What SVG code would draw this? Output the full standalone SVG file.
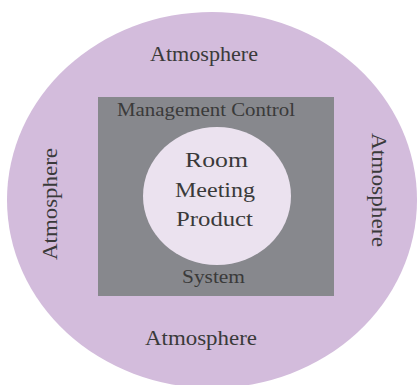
<svg xmlns="http://www.w3.org/2000/svg" width="418" height="385" viewBox="0 0 418 385">
<style>
.t{font-family:"Liberation Serif","Times New Roman",serif;fill:#3a3a3a;text-anchor:middle}
.a{font-size:20px}
.m{font-size:19px}
.c{font-size:22px}
</style>
<rect width="418" height="385" fill="#ffffff"/>
<g id="atmosphere">
<ellipse cx="212" cy="200" rx="205" ry="188" fill="#d3bcdc"/>
<text class="t a" x="204" y="61" textLength="108" lengthAdjust="spacingAndGlyphs">Atmosphere</text>
<text class="t a" x="201" y="345" textLength="112" lengthAdjust="spacingAndGlyphs">Atmosphere</text>
<text class="t a" transform="translate(57,204) rotate(-90)" textLength="112" lengthAdjust="spacingAndGlyphs">Atmosphere</text>
<text class="t a" transform="translate(372,190) rotate(90)" textLength="114" lengthAdjust="spacingAndGlyphs">Atmosphere</text>
</g>
<g id="system">
<rect x="98" y="97" width="236" height="199" fill="#87888d"/>
<text class="t m" x="206" y="116" textLength="178" lengthAdjust="spacingAndGlyphs">Management Control</text>
<text class="t m" x="213.5" y="283" textLength="63" lengthAdjust="spacingAndGlyphs">System</text>
</g>
<g id="core">
<ellipse cx="217" cy="196" rx="74" ry="69" fill="#ebe2ef"/>
<text class="t c" x="216.5" y="167" textLength="63" lengthAdjust="spacingAndGlyphs">Room</text>
<text class="t c" x="215" y="197" textLength="80" lengthAdjust="spacingAndGlyphs">Meeting</text>
<text class="t c" x="214.5" y="226" textLength="77" lengthAdjust="spacingAndGlyphs">Product</text>
</g>
</svg>
